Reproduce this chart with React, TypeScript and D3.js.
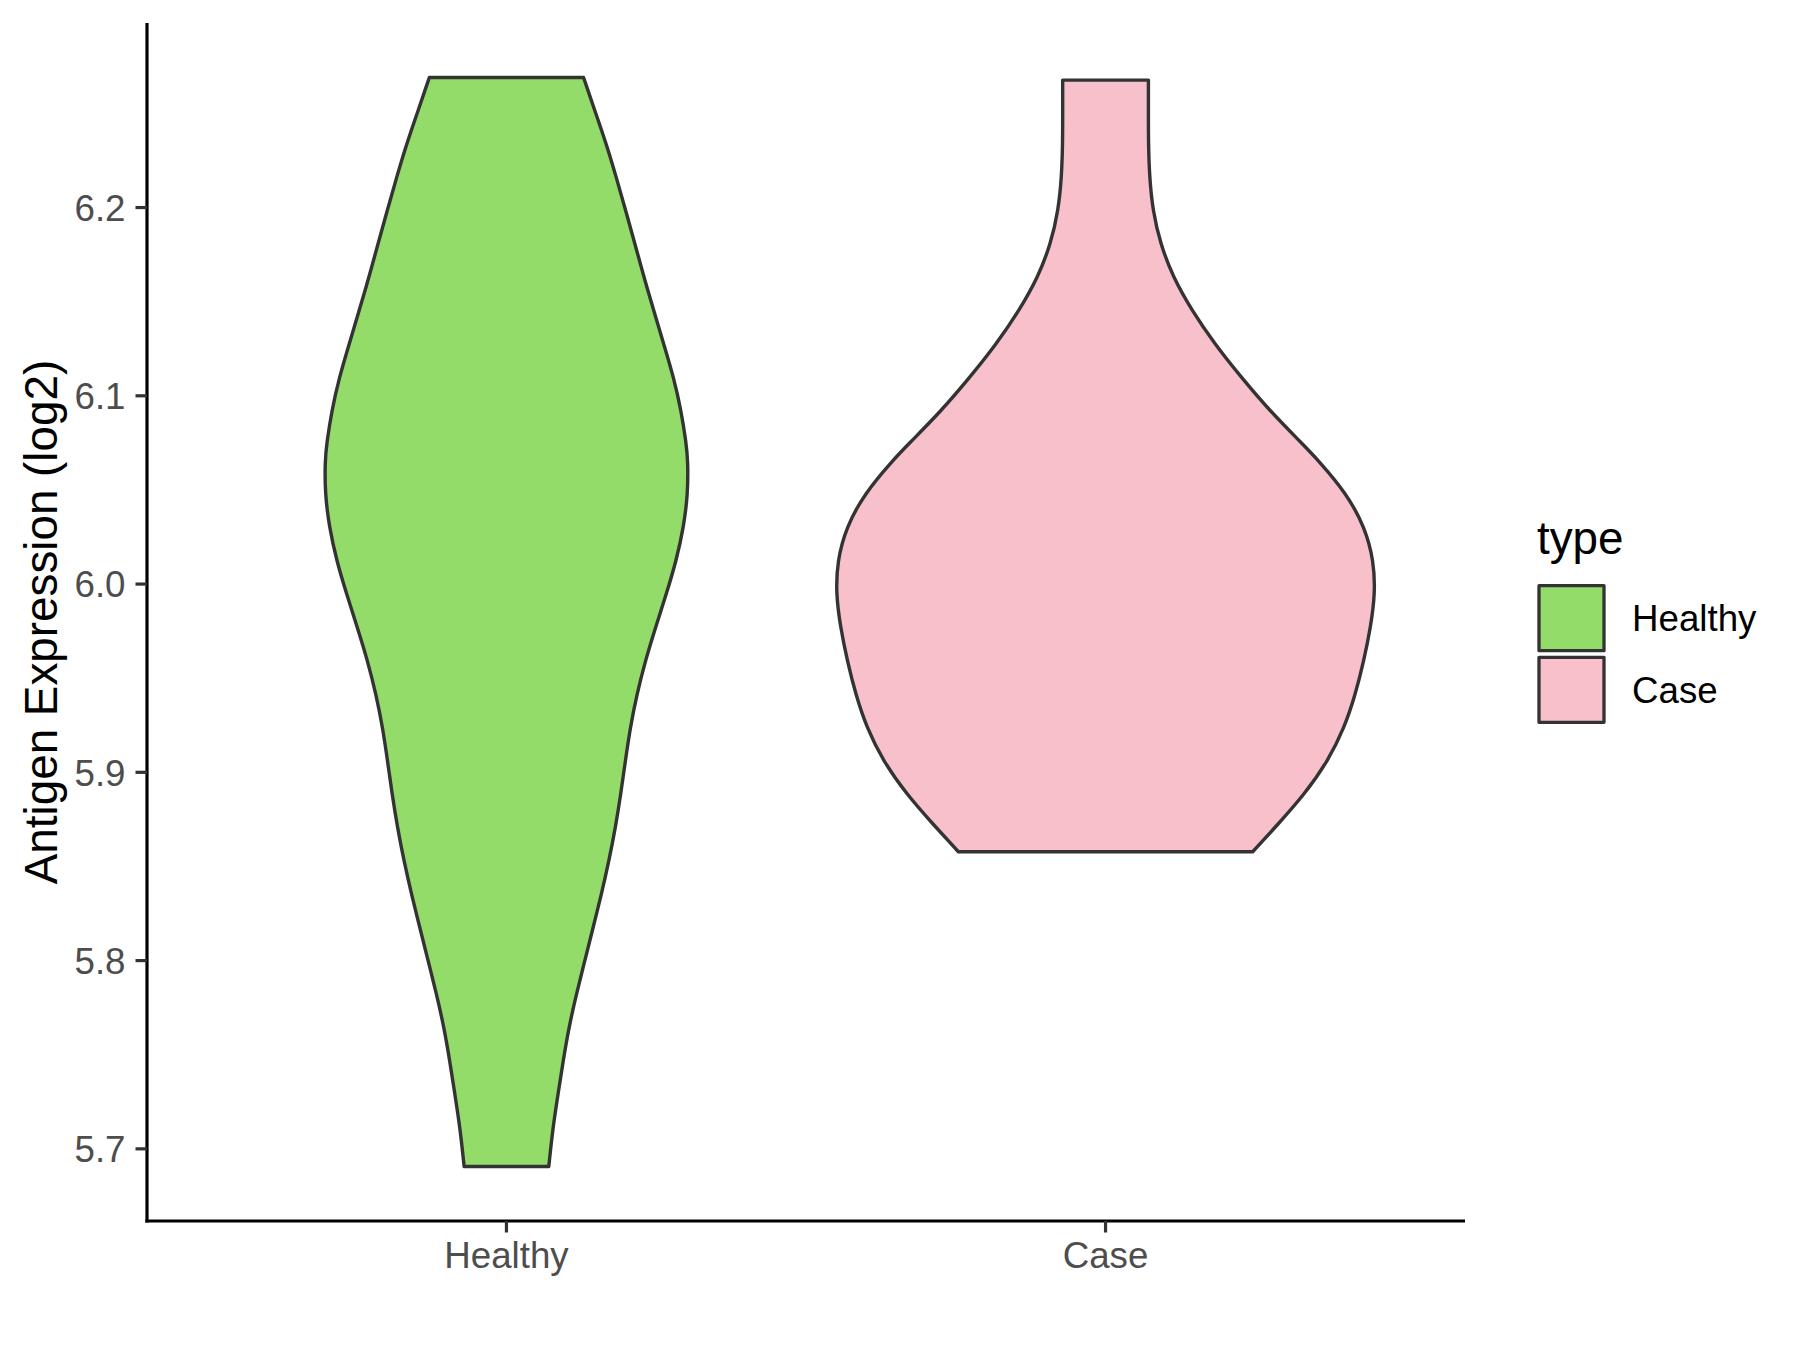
import React from "react";
import * as d3 from "d3";

// ---- data ----
const categories = ["Healthy", "Case"];
const fillColors = ["#94DC6A", "#F7C0CB"];
const yTicks = [5.7, 5.8, 5.9, 6.0, 6.1, 6.2];

// violin outlines: expression value and scaled density width (1 = widest violin)
const healthyValues = [
  6.2691, 6.2518, 6.234, 6.2163, 6.1986, 6.1809, 6.1631, 6.1454, 6.1277, 6.1099,
  6.0922, 6.0745, 6.0656, 6.0479, 6.0301, 6.0124, 5.9947, 5.9769, 5.9592, 5.9415,
  5.9237, 5.906, 5.8883, 5.8705, 5.8528, 5.8351, 5.8173, 5.7996, 5.7819, 5.7641,
  5.7464, 5.7287, 5.711, 5.6906,
];
const healthyWidths = [
  0.286, 0.327, 0.37, 0.407, 0.442, 0.476, 0.51, 0.546, 0.583, 0.62,
  0.648, 0.667, 0.673, 0.673, 0.657, 0.63, 0.593, 0.553, 0.515, 0.484,
  0.459, 0.441, 0.424, 0.404, 0.38, 0.352, 0.321, 0.29, 0.259, 0.231,
  0.21, 0.191, 0.172, 0.157,
];
const caseValues = [
  6.2677, 6.2518, 6.234, 6.2163, 6.1986, 6.1809, 6.1631, 6.1454, 6.1277, 6.1099,
  6.0922, 6.0745, 6.0656, 6.0479, 6.0301, 6.0124, 5.9947, 5.9769, 5.9592, 5.9415,
  5.9237, 5.906, 5.8883, 5.8723, 5.8578,
];
const caseWidths = [
  0.159, 0.159, 0.159, 0.163, 0.175, 0.203, 0.25, 0.32, 0.404, 0.503,
  0.608, 0.73, 0.79, 0.895, 0.962, 0.995, 1.0, 0.983, 0.958, 0.927,
  0.886, 0.825, 0.738, 0.639, 0.546,
];

const yTitle = "Antigen Expression (log2)";
const legendTitle = "type";

// ---- layout ----
const W = 1800;
const H = 1350;
const panel = { left: 147, right: 1465, top: 23, bottom: 1221 };
const FONT = "'Liberation Sans', Arial, Helvetica, sans-serif";

export default function App() {
  const series = [
    { name: categories[0], values: healthyValues, widths: healthyWidths, fill: fillColors[0] },
    { name: categories[1], values: caseValues, widths: caseWidths, fill: fillColors[1] },
  ];

  const allVals = [...healthyValues, ...caseValues];
  const vMin = d3.min(allVals) as number;
  const vMax = d3.max(allVals) as number;
  const pad = (vMax - vMin) * 0.05;

  const y = d3.scaleLinear().domain([vMin - pad, vMax + pad]).range([panel.bottom, panel.top]);
  const x = d3.scalePoint<string>().domain(categories).range([panel.left, panel.right]).padding(0.6);
  const step = x.step();
  const wScale = d3.scaleLinear().domain([0, 1]).range([0, 0.45 * step]);

  const tickLen = 11.5;

  return (
    <svg
      width={W}
      height={H}
      viewBox={`0 0 ${W} ${H}`}
      style={{ position: "absolute", left: 0, top: 0, background: "#fff" }}
    >
      <rect x={0} y={0} width={W} height={H} fill="#fff" />
      {series.map((s) => {
        const cx = x(s.name) as number;
        const pts = s.values.map((v, i) => ({ v, w: s.widths[i] }));
        const area = d3
          .area<{ v: number; w: number }>()
          .y((d) => y(d.v))
          .x0((d) => cx - wScale(d.w))
          .x1((d) => cx + wScale(d.w))
          .curve(d3.curveBasis);
        return (
          <path
            key={s.name}
            d={area(pts) as string}
            fill={s.fill}
            stroke="#333333"
            strokeWidth={3.4}
            strokeLinejoin="round"
          />
        );
      })}

      {/* axes */}
      <line x1={panel.left} x2={panel.left} y1={panel.top} y2={panel.bottom + 1.6} stroke="#000" strokeWidth={3.2} />
      <line x1={panel.left - 1.6} x2={panel.right} y1={panel.bottom} y2={panel.bottom} stroke="#000" strokeWidth={3.2} />

      {yTicks.map((t) => (
        <g key={t}>
          <line
            x1={panel.left - tickLen}
            x2={panel.left}
            y1={y(t)}
            y2={y(t)}
            stroke="#333333"
            strokeWidth={3.2}
          />
          <text
            x={panel.left - tickLen - 10}
            y={y(t)}
            dy="0.36em"
            textAnchor="end"
            fontFamily={FONT}
            fontSize={36.7}
            fill="#4D4D4D"
          >
            {d3.format(".1f")(t)}
          </text>
        </g>
      ))}

      {categories.map((c) => (
        <g key={c}>
          <line
            x1={x(c)}
            x2={x(c)}
            y1={panel.bottom}
            y2={panel.bottom + tickLen}
            stroke="#333333"
            strokeWidth={3.2}
          />
          <text
            x={x(c)}
            y={panel.bottom + 47}
            textAnchor="middle"
            fontFamily={FONT}
            fontSize={36.7}
            fill="#4D4D4D"
          >
            {c}
          </text>
        </g>
      ))}

      <text
        transform={`translate(56.5, ${(panel.top + panel.bottom) / 2}) rotate(-90)`}
        textAnchor="middle"
        fontFamily={FONT}
        fontSize={45.8}
        fill="#000"
      >
        {yTitle}
      </text>

      {/* legend */}
      <text x={1537} y={554} fontFamily={FONT} fontSize={45.8} fill="#000">
        {legendTitle}
      </text>
      {series.map((s, i) => (
        <g key={s.name}>
          <rect
            x={1539}
            y={585.7 + i * 71.6}
            width={65}
            height={65}
            fill={s.fill}
            stroke="#333333"
            strokeWidth={3.3}
            strokeLinejoin="round"
          />
          <text
            x={1632}
            y={618 + i * 71.6}
            dy="0.36em"
            fontFamily={FONT}
            fontSize={36.7}
            fill="#000"
          >
            {s.name}
          </text>
        </g>
      ))}
    </svg>
  );
}
